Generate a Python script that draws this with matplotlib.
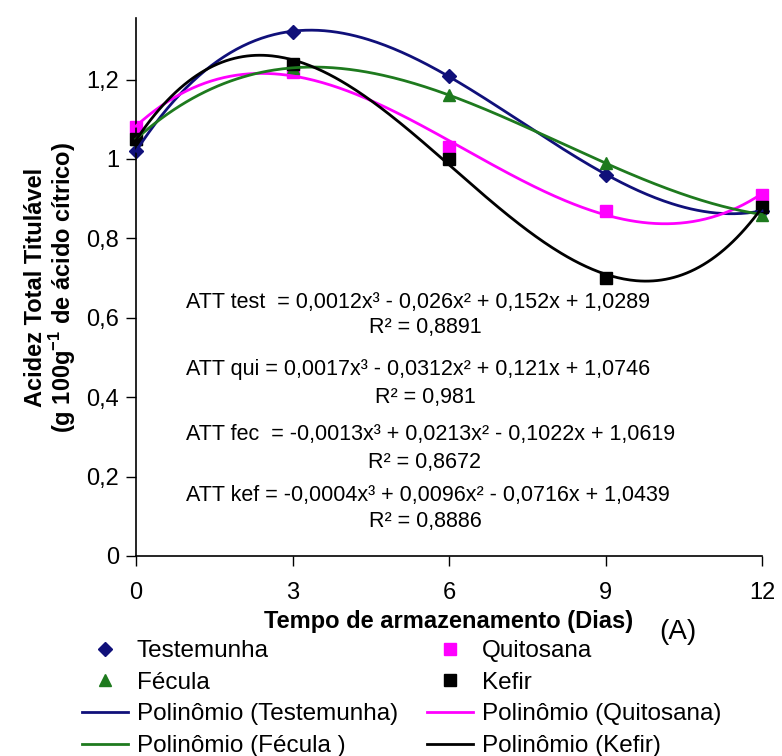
import numpy as np
import matplotlib
matplotlib.use("Agg")
import matplotlib.pyplot as plt

plt.rcParams['font.family'] = ['Liberation Sans', 'DejaVu Sans']
plt.rcParams['mathtext.fontset'] = 'custom'
plt.rcParams['mathtext.rm'] = 'Liberation Sans'
plt.rcParams['mathtext.bf'] = 'Liberation Sans:bold'

days = [0, 3, 6, 9, 12]
testemunha = [1.02, 1.32, 1.21, 0.96, 0.87]
quitosana = [1.08, 1.22, 1.03, 0.87, 0.91]
fecula = [1.05, 1.23, 1.16, 0.99, 0.86]
kefir = [1.05, 1.24, 1.00, 0.70, 0.88]

y_ticks = [0, 0.2, 0.4, 0.6, 0.8, 1.0, 1.2]
y_ticklabels = ['0', '0,2', '0,4', '0,6', '0,8', '1', '1,2']

equations = [
    ("ATT test  = 0,0012x³ - 0,026x² + 0,152x + 1,0289", "R² = 0,8891"),
    ("ATT qui = 0,0017x³ - 0,0312x² + 0,121x + 1,0746", "R² = 0,981"),
    ("ATT fec  = -0,0013x³ + 0,0213x² - 0,1022x + 1,0619", "R² = 0,8672"),
    ("ATT kef = -0,0004x³ + 0,0096x² - 0,0716x + 1,0439", "R² = 0,8886"),
]

series = [
    ("Testemunha", testemunha, '#10107a', 'D', 7),
    ("Quitosana", quitosana, '#ff00ff', 's', 9),
    ("Fécula", fecula, '#1e7a1e', '^', 9),
    ("Kefir", kefir, '#000000', 's', 9),
]

fig = plt.figure(figsize=(7.82, 7.56), dpi=100)
ax = fig.add_axes([136 / 782, 1 - 556 / 756, (762 - 136) / 782, (556 - 18) / 756])

xs = np.linspace(0, 12, 300)
marker_handles = {}
line_handles = {}
for name, vals, color, mk, ms in series:
    coef = np.polyfit(days, vals, 3)
    ln, = ax.plot(xs, np.polyval(coef, xs), color=color, lw=2.0, zorder=3,
                  clip_on=False)
    pt, = ax.plot(days, vals, linestyle='none', marker=mk, ms=ms, color=color,
                  zorder=2, clip_on=False)
    marker_handles[name] = pt
    line_handles[name] = ln

ax.set_xlim(0, 12)
ax.set_ylim(0, 1.355)
ax.set_xticks(days)
ax.set_xticklabels([str(d) for d in days])
ax.set_yticks(y_ticks)
ax.set_yticklabels(y_ticklabels)
ax.tick_params(labelsize=17, length=7, width=1, direction='out', pad=5)
ax.tick_params(axis='x', pad=12)
for s in ['top', 'right']:
    ax.spines[s].set_visible(False)
for s in ['left', 'bottom']:
    ax.spines[s].set_linewidth(1.2)

ax.set_xlabel("Tempo de armazenamento (Dias)", fontsize=17, fontweight='bold',
              labelpad=4)
ax.set_ylabel("Acidez Total Titulável\n(g 100g$^{\\mathbf{-1}}$ de ácido cítrico)",
              fontsize=17, fontweight='bold', labelpad=6, linespacing=1.0)

eq_y = [302, 370, 435, 495]
r2_y = [328, 397, 462, 522]
for (eq, r2), ey, ry in zip(equations, eq_y, r2_y):
    fig.text(186 / 782, 1 - ey / 756, eq, fontsize=15.5, ha='left', va='center')
    fig.text(425 / 782, 1 - ry / 756, r2, fontsize=15.5, ha='center', va='center')

fig.text(678 / 782, 1 - 632 / 756, "(A)", fontsize=20, ha='center', va='center')

handles = [marker_handles["Testemunha"], marker_handles["Fécula"],
           line_handles["Testemunha"], line_handles["Fécula"],
           marker_handles["Quitosana"], marker_handles["Kefir"],
           line_handles["Quitosana"], line_handles["Kefir"]]
labels = ["Testemunha", "Fécula", "Polinômio (Testemunha)", "Polinômio (Fécula )",
          "Quitosana", "Kefir", "Polinômio (Quitosana)", "Polinômio (Kefir)"]
fig.legend(handles, labels, ncol=2, loc='upper left',
           bbox_to_anchor=(82 / 782, 1 - 640 / 756), frameon=False,
           fontsize=17.5, handlelength=1.9, handletextpad=0.35,
           columnspacing=1.2, labelspacing=0.4, borderpad=0, borderaxespad=0)

fig.savefig("out.png", dpi=100)
